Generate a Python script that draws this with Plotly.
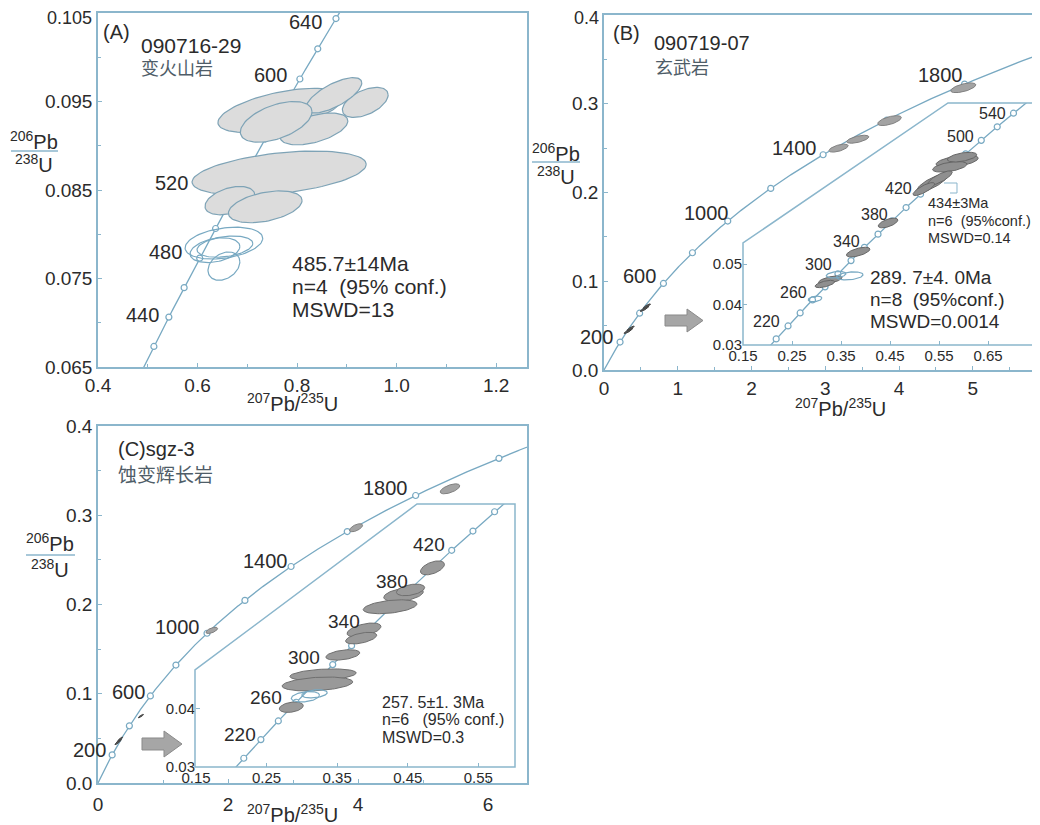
import numpy as np
import plotly.graph_objects as go

# ---------------- constants (decay constants for concordia) ----------------
L238, L235 = 1.55125e-10, 9.8485e-10

# ---------------- DATA ----------------
# Panel A  (090716-29)
a_marker_ages = [400, 420, 440, 460, 480, 500, 520, 540, 560, 580, 600, 620, 640, 660]
a_label_ages = [440, 480, 520, 600, 640]
a_fill_cx = [0.766, 0.937, 0.874, 0.834, 0.758, 0.764, 0.665, 0.736]
a_fill_cy = [0.0940, 0.0949, 0.0957, 0.0919, 0.0927, 0.0869, 0.0838, 0.0831]
a_fill_sx = [0.125, 0.046, 0.056, 0.068, 0.072, 0.175, 0.050, 0.074]
a_fill_sy = [0.0025, 0.0017, 0.0020, 0.0018, 0.0023, 0.0025, 0.0016, 0.0018]
a_fill_rho = [0.55, 0.5, 0.7, 0.5, 0.5, 0.4, 0.4, 0.4]
a_open_cx = [0.653, 0.655, 0.653, 0.635]
a_open_cy = [0.0790, 0.0786, 0.0764, 0.0782]
a_open_sx = [0.078, 0.056, 0.032, 0.050]
a_open_sy = [0.0018, 0.0012, 0.0016, 0.0014]
a_open_rho = [0.3, 0.3, 0.3, 0.3]
a_yticks = [0.065, 0.075, 0.085, 0.095, 0.105]
a_yticktext = ["0.065", "0.075", "0.085", "0.095", "0.105"]
a_stats = ["485.7±14Ma", "n=4  (95% conf.)", "MSWD=13"]

# Panel B  (090719-07) main
b_marker_ages = [200, 400, 600, 800, 1000, 1200, 1400, 1600, 1800, 2000]
b_label_ages = [200, 600, 1000, 1400, 1800]
b_fill_cx = [4.87, 3.87, 3.44, 3.18]
b_fill_cy = [0.318, 0.281, 0.260, 0.250]
b_fill_sx = [0.17, 0.16, 0.15, 0.13]
b_fill_sy = [0.0055, 0.0056, 0.0045, 0.0045]
b_fill_rho = [0.6, 0.6, 0.6, 0.6]
b_dark_cx = [0.33, 0.36, 0.55, 0.58]
b_dark_cy = [0.044, 0.047, 0.069, 0.072]
b_dark_sx = [0.06, 0.05, 0.06, 0.05]
b_dark_sy = [0.003, 0.0025, 0.003, 0.0025]
b_dark_rho = [0.9, 0.9, 0.9, 0.9]
b_yticks = [0, 0.1, 0.2, 0.3, 0.4]
b_yticktext = ["0.0", "0.1", "0.2", "0.3", "0.4"]
# Panel B inset
bi_marker_ages = list(range(200, 580, 20))
bi_label_ages = [220, 260, 300, 340, 380, 420, 500, 540]
bi_fill_cx = [0.587, 0.572, 0.597, 0.536, 0.552, 0.519, 0.446, 0.385, 0.328, 0.317]
bi_fill_cy = [0.0755, 0.0741, 0.0765, 0.0701, 0.0713, 0.0686, 0.0602, 0.0530, 0.0461, 0.0451]
bi_fill_sx = [0.043, 0.035, 0.030, 0.031, 0.025, 0.022, 0.020, 0.024, 0.024, 0.020]
bi_fill_sy = [0.0015, 0.0013, 0.0012, 0.0022, 0.0018, 0.0016, 0.0012, 0.0012, 0.0010, 0.0009]
bi_fill_rho = [0.5, 0.5, 0.5, 0.8, 0.8, 0.8, 0.6, 0.6, 0.6, 0.6]
bi_open_cx = [0.368, 0.340, 0.297]
bi_open_cy = [0.0471, 0.0474, 0.0414]
bi_open_sx = [0.027, 0.020, 0.014]
bi_open_sy = [0.0010, 0.0008, 0.0007]
bi_open_rho = [0.3, 0.3, 0.3]
b_stats = ["289. 7±4. 0Ma", "n=8  (95%conf.)", "MSWD=0.0014"]
b_sub_stats = ["434±3Ma", "n=6  (95%conf.)", "MSWD=0.14"]

# Panel C  (sgz-3) main
c_marker_ages = [200, 400, 600, 800, 1000, 1200, 1400, 1600, 1800, 2000]
c_label_ages = [200, 600, 1000, 1400, 1800]
c_fill_cx = [5.415, 3.97, 1.75]
c_fill_cy = [0.3296, 0.286, 0.171]
c_fill_sx = [0.15, 0.10, 0.09]
c_fill_sy = [0.0056, 0.0045, 0.0035]
c_fill_rho = [0.6, 0.6, 0.6]
c_dark_cx = [0.31, 0.34, 0.66]
c_dark_cy = [0.046, 0.049, 0.075]
c_dark_sx = [0.05, 0.04, 0.04]
c_dark_sy = [0.003, 0.0025, 0.002]
c_dark_rho = [0.9, 0.9, 0.9]
# Panel C inset
ci_marker_ages = list(range(200, 500, 20))
ci_label_ages = [220, 260, 300, 340, 380, 420]
ci_fill_cx = [0.485, 0.444, 0.454, 0.425, 0.388, 0.384, 0.358, 0.330, 0.322, 0.285]
ci_fill_cy = [0.0643, 0.0597, 0.0605, 0.0576, 0.0536, 0.0522, 0.0493, 0.0459, 0.0443, 0.0403]
ci_fill_sx = [0.017, 0.028, 0.020, 0.038, 0.024, 0.022, 0.024, 0.047, 0.050, 0.017]
ci_fill_sy = [0.0012, 0.0012, 0.0010, 0.0012, 0.0012, 0.0010, 0.0009, 0.0010, 0.0012, 0.0009]
ci_fill_rho = [0.5, 0.4, 0.4, 0.4, 0.5, 0.5, 0.4, 0.3, 0.3, 0.3]
ci_open_cx = [0.305, 0.318]
ci_open_cy = [0.0421, 0.0426]
ci_open_sx = [0.020, 0.018]
ci_open_sy = [0.0009, 0.0007]
ci_open_rho = [0.3, 0.3]
c_stats = ["257. 5±1. 3Ma", "n=6   (95% conf.)", "MSWD=0.3"]

# ---------------- styles / layout positions ----------------
# The page body has an 8px margin, so the figure is offset by 8px in the window.
OFF = 8
W, H = 1032, 817
FONT = "Liberation Sans, Arial, sans-serif"
CJK = "Noto Sans CJK SC"
TXT = "#2b2b2b"
CJKC = "#4f5d68"
AXC = "#8bb6cc"
CURVE = "#78a9c2"
ELL_LINE = "#7ea3b6"

a_lab_dx = [-8, -16, -42, -11, -12]
a_lab_dy = [2, 6, 16, 4, -3]
b_lab_dx = [-5, -5, 3, -4, 0]
b_lab_dy = [5, 7, 8, 7, 9]
bi_lab_dx = [-6, -4, -4, -2, -2, -7, -5, -5]
bi_lab_dy = [4, 7, 9, 6, 6, 6, 4, 0]
c_lab_dx = [-4, -3, -5, -1, -6]
c_lab_dy = [5, 4, 6, 6, 8]
ci_lab_dx = [-3, -12, -11, -9, 0, -5]
ci_lab_dy = [5, 5, 7, 5, 7, 6]


def fx(X):
    return (X - OFF) / W


def fy(Y):
    return 1 - (Y - OFF) / H


def conc(ages):
    t = np.asarray(ages, float) * 1e6
    return np.exp(L235 * t) - 1, np.exp(L238 * t) - 1


def ell(cx, cy, sx, sy, r, n=90):
    th = np.linspace(0, 2 * np.pi, n)
    return cx + sx * np.cos(th), cy + sy * (r * np.cos(th) + np.sqrt(1 - r * r) * np.sin(th))


fig = go.Figure()


def add_curve(xa, ya, t0, t1, marker_ages):
    ages = np.linspace(t0, t1, 500)
    cx, cy = conc(ages)
    fig.add_trace(go.Scatter(x=cx, y=cy, mode="lines", line=dict(color=CURVE, width=1.3),
                             xaxis=xa, yaxis=ya, hoverinfo="skip", showlegend=False))
    mx, my = conc(marker_ages)
    fig.add_trace(go.Scatter(x=mx, y=my, mode="markers",
                             marker=dict(symbol="circle", size=6, color="white",
                                         line=dict(color=CURVE, width=1.2)),
                             xaxis=xa, yaxis=ya, hoverinfo="skip", showlegend=False))


def add_ells(xa, ya, cxs, cys, sxs, sys_, rhos, fill, line, width=1.0):
    for cx, cy, sx, sy, r in zip(cxs, cys, sxs, sys_, rhos):
        x, y = ell(cx, cy, sx, sy, r)
        fig.add_trace(go.Scatter(x=x, y=y, mode="lines",
                                 fill="toself" if fill else "none",
                                 fillcolor=fill if fill else None,
                                 line=dict(color=line, width=width),
                                 xaxis=xa, yaxis=ya, hoverinfo="skip", showlegend=False))


def add_labels(xa, ya, ages, dxs, dys, size):
    lx, ly = conc(ages)
    for a, x, y, dx, dy in zip(ages, lx, ly, dxs, dys):
        fig.add_annotation(x=x, y=y, xref=xa, yref=ya, text=str(a), showarrow=False,
                           xanchor="right", yanchor="middle", xshift=dx, yshift=dy,
                           font=dict(family=FONT, size=size, color=TXT))


def ptext(txt, x, y, size, anchor="left", font=FONT, color=TXT):
    fig.add_annotation(x=fx(x), y=fy(y), xref="paper", yref="paper", text=txt,
                       showarrow=False, xanchor=anchor, yanchor="middle",
                       font=dict(family=font, size=size, color=color))


def ppath(pts, closed=True):
    s = "M " + " L ".join(f"{fx(x):.5f},{fy(y):.5f}" for x, y in pts)
    return s + (" Z" if closed else "")


# ---- Panel A ----
add_curve("x", "y", 380, 680, a_marker_ages)
add_ells("x", "y", a_fill_cx, a_fill_cy, a_fill_sx, a_fill_sy, a_fill_rho, "#dcdcdc", ELL_LINE, 1.2)
add_ells("x", "y", a_open_cx, a_open_cy, a_open_sx, a_open_sy, a_open_rho, None, CURVE, 1.2)
add_labels("x", "y", a_label_ages, a_lab_dx, a_lab_dy, 20)

# ---- Panel B main ----
add_curve("x2", "y2", 0, 2000, b_marker_ages)
add_ells("x2", "y2", b_fill_cx, b_fill_cy, b_fill_sx, b_fill_sy, b_fill_rho, "#a3a3a3", "#808080")
add_ells("x2", "y2", b_dark_cx, b_dark_cy, b_dark_sx, b_dark_sy, b_dark_rho, "#555555", "#444444")
add_labels("x2", "y2", b_label_ages, b_lab_dx, b_lab_dy, 20)
# ---- Panel B inset ----
add_curve("x3", "y3", 180, 580, bi_marker_ages)
add_ells("x3", "y3", bi_fill_cx, bi_fill_cy, bi_fill_sx, bi_fill_sy, bi_fill_rho, "#8f8f8f", "#666666")
add_ells("x3", "y3", bi_open_cx, bi_open_cy, bi_open_sx, bi_open_sy, bi_open_rho, None, CURVE, 1.2)
add_labels("x3", "y3", bi_label_ages, bi_lab_dx, bi_lab_dy, 16)

# ---- Panel C main ----
add_curve("x4", "y4", 0, 2100, c_marker_ages)
add_ells("x4", "y4", c_fill_cx, c_fill_cy, c_fill_sx, c_fill_sy, c_fill_rho, "#a3a3a3", "#808080")
add_ells("x4", "y4", c_dark_cx, c_dark_cy, c_dark_sx, c_dark_sy, c_dark_rho, "#555555", "#444444")
add_labels("x4", "y4", c_label_ages, c_lab_dx, c_lab_dy, 20)
# ---- Panel C inset ----
add_curve("x5", "y5", 180, 500, ci_marker_ages)
add_ells("x5", "y5", ci_fill_cx, ci_fill_cy, ci_fill_sx, ci_fill_sy, ci_fill_rho, "#999999", "#6f6f6f")
add_ells("x5", "y5", ci_open_cx, ci_open_cy, ci_open_sx, ci_open_sy, ci_open_rho, None, CURVE, 1.2)
add_labels("x5", "y5", ci_label_ages, ci_lab_dx, ci_lab_dy, 19)


def axis(domain, rng, tickvals, ticktext, anchor, minor=None, size=19, line=True, standoff=None):
    d = dict(domain=domain, range=rng, tickmode="array", tickvals=tickvals, ticktext=ticktext,
             anchor=anchor, showgrid=False, zeroline=False, showline=line, automargin=False,
             ticklabeloverflow="allow",
             linecolor=AXC, linewidth=1.5, mirror=line, ticks="inside", ticklen=4,
             tickcolor=AXC, tickwidth=1.2,
             tickfont=dict(family=FONT, size=size, color=TXT))
    if minor is not None:
        d["minor"] = dict(tickmode="array", tickvals=minor, ticks="inside", ticklen=3,
                          tickcolor=AXC, tickwidth=1)
    if standoff is not None:
        d["ticklabelstandoff"] = standoff
    return d


def dx(a, b):
    return [max(0.0, fx(a)), min(1.0, fx(b))]


def dy(top, bottom):
    return [max(0.0, fy(bottom)), min(1.0, fy(top))]


# the topmost tick label of panels A and B sits at the window edge: drawn as text below
a_ytext_axis = a_yticktext[:-1] + [""]
b_ytext_axis = b_yticktext[:-1] + [""]

fig.update_layout(
    width=W, height=H, margin=dict(l=0, r=0, t=0, b=0, pad=0, autoexpand=False),
    paper_bgcolor="white", plot_bgcolor="rgba(0,0,0,0)", showlegend=False,
    xaxis=axis(dx(98, 527), [0.4, 1.262], [0.4, 0.6, 0.8, 1.0, 1.2],
               ["0.4", "0.6", "0.8", "1.0", "1.2"], "y", minor=[0.5, 0.7, 0.9, 1.1]),
    yaxis=axis(dy(13, 367), [0.065, 0.105], a_yticks, a_ytext_axis, "x",
               minor=[0.07, 0.08, 0.09, 0.1]),
    xaxis2=axis(dx(604, 1040), [0, 5.91], [0, 1, 2, 3, 4, 5], ["0", "1", "2", "3", "4", "5"],
                "y2", minor=[0.5, 1.5, 2.5, 3.5, 4.5, 5.5]),
    yaxis2=axis(dy(15, 370), [0, 0.4], b_yticks, b_ytext_axis, "x2",
                minor=[0.05, 0.15, 0.25, 0.35]),
    xaxis3=axis(dx(743, 1037), [0.15, 0.75], [0.15, 0.25, 0.35, 0.45, 0.55, 0.65],
                ["0.15", "0.25", "0.35", "0.45", "0.55", "0.65"], "y3", size=15, line=False),
    yaxis3=axis(dy(103, 345), [0.03, 0.0899], [0.03, 0.04, 0.05], ["0.03", "0.04", "0.05"],
                "x3", size=15, line=False),
    xaxis4=axis(dx(98, 527), [0, 6.6], [0, 2, 4, 6], ["0", "2", "4", "6"], "y4",
                minor=[1, 3, 5], standoff=3),
    yaxis4=axis(dy(426, 783), [0, 0.4], [0, 0.1, 0.2, 0.3, 0.4], ["0.0", "0.1", "0.2", "0.3", "0.4"],
                "x4", minor=[0.05, 0.15, 0.25, 0.35]),
    xaxis5=axis(dx(196, 515), [0.15, 0.602], [0.15, 0.25, 0.35, 0.45, 0.55],
                ["0.15", "0.25", "0.35", "0.45", "0.55"], "y5", size=15, line=False),
    yaxis5=axis(dy(504, 767), [0.03, 0.0753], [0.03, 0.04], ["0.03", "0.04"], "x5",
                size=15, line=False),
)

# top tick labels (kept fully inside the window)
fig.add_annotation(x=fx(93), y=fy(18), xref="paper", yref="paper", text=a_yticktext[-1],
                   showarrow=False, xanchor="right", yanchor="middle", borderpad=0,
                   font=dict(family=FONT, size=18, color=TXT))
fig.add_annotation(x=fx(600), y=fy(18), xref="paper", yref="paper", text=b_yticktext[-1],
                   showarrow=False, xanchor="right", yanchor="middle", borderpad=0,
                   font=dict(family=FONT, size=18, color=TXT))

shapes = []
# inset frames
shapes.append(dict(type="path", xref="paper", yref="paper",
                   path=ppath([(743, 345), (743, 243), (948, 103), (1037, 103), (1037, 345)]),
                   line=dict(color=AXC, width=1.5)))
shapes.append(dict(type="path", xref="paper", yref="paper",
                   path=ppath([(195, 767), (195, 670), (417, 504), (515, 504), (515, 767)]),
                   line=dict(color=AXC, width=1.5)))
# arrows
for pts in ([(665, 315), (687, 315), (687, 309), (703, 320.5), (687, 332), (687, 326), (665, 326)],
            [(142, 738), (164, 738), (164, 731), (182, 744), (164, 757), (164, 750), (142, 750)]):
    shapes.append(dict(type="path", xref="paper", yref="paper", path=ppath(pts),
                       fillcolor="#a6a6a6", line=dict(color="#8a8a8a", width=1)))
# small leader bracket for 434 Ma
shapes.append(dict(type="path", xref="paper", yref="paper",
                   path=ppath([(944, 183), (957, 183), (957, 193), (950, 193)], closed=False),
                   line=dict(color=AXC, width=1)))
# fraction bars of y titles
for x0, x1, yy in ((11, 58, 151), (532, 580, 162), (26, 75, 555)):
    shapes.append(dict(type="line", xref="paper", yref="paper", x0=fx(x0), x1=fx(x1),
                       y0=fy(yy), y1=fy(yy), line=dict(color=AXC, width=1.5)))
fig.update_layout(shapes=shapes)

# y titles
for xc, ytop, ybot in ((34, 140, 163), (556, 152, 175), (50, 542, 568)):
    ptext("<sup>206</sup>Pb", xc, ytop, 20, anchor="center")
    ptext("<sup>238</sup>U", xc, ybot, 20, anchor="center")
# x titles
for xc, yc in ((292, 403), (840, 407), (292, 813)):
    ptext("<sup>207</sup>Pb/<sup>235</sup>U", xc, yc, 20, anchor="center")

# panel headings
ptext("(A)", 101, 32, 20)
ptext("090716-29", 139, 45, 21)
ptext("变火山岩", 139, 67, 18, font=CJK, color=CJKC)
ptext("(B)", 611, 33, 20)
ptext("090719-07", 652, 43, 20)
ptext("玄武岩", 653, 66, 18, font=CJK, color=CJKC)
ptext("(C)sgz-3", 116, 449, 20)
ptext("蚀变辉长岩", 116, 473, 19, font=CJK, color=CJKC)

# statistics
for i, s in enumerate(a_stats):
    ptext(s, 290, 263 + i * 23, 21)
for i, s in enumerate(b_stats):
    ptext(s, 868, 278 + i * 21.5, 19)
for i, s in enumerate(b_sub_stats):
    ptext(s, 926, 203 + i * 17.5, 14.5)
for i, s in enumerate(c_stats):
    ptext(s, 380, 702 + i * 17.5, 16)

fig.write_html("out.html")
